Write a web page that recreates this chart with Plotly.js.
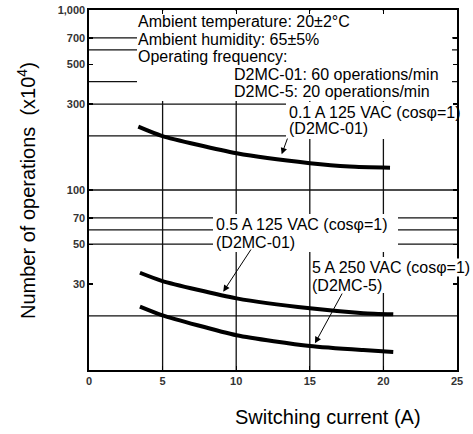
<!DOCTYPE html>
<html>
<head>
<meta charset="utf-8">
<script src="https://cdn.plot.ly/plotly-3.0.1.min.js"></script>
<style>html,body{margin:0;padding:0;background:#fff;}#chart{width:473px;height:434px;}</style>
</head>
<body>
<div id="chart"></div>
<script>
// ---- data ----
const currentA = [3.35, 4.94, 10.03, 15.01, 17.7, 20.45];
const ops_01A_125VAC = [225, 200, 160, 141, 135, 133];
const currentB = [3.46, 4.94, 10.03, 15.01, 18.63, 20.67];
const ops_05A_125VAC = [34.7, 31.3, 25.0, 22.0, 20.7, 20.4];
const ops_5A_250VAC = [22.5, 20.2, 15.6, 13.6, 12.9, 12.6];

const xTickVals = [0, 5, 10, 15, 20, 25];
const yTickVals = [30, 50, 70, 100, 300, 500, 700, 1000];
const yTickText = ['30', '50', '70', '100', '300', '500', '700', '1,000'];
const hGridVals = [700, 600, 400, 300, 200, 100, 70, 60, 50, 20];
const vGridVals = [5, 10, 15, 20];

const noteLines = [
  'Ambient temperature: 20±2°C',
  'Ambient humidity: 65±5%',
  'Operating frequency:',
  'D2MC-01: 60 operations/min',
  'D2MC-5: 20 operations/min'
];
const curveLabels = [
  ['0.1 A 125 VAC (cosφ=1)', '(D2MC-01)'],
  ['0.5 A 125 VAC (cosφ=1)', '(D2MC-01)'],
  ['5 A 250 VAC (cosφ=1)', '(D2MC-5)']
];

// ---- layout helpers (pixel -> paper) ----
const L = 89, T = 10, W = 368, H = 360;
const px = v => (v - L) / W;
const py = v => (T + H - v) / H;
const FONT = '"Liberation Sans", Arial, Helvetica, sans-serif';

const lineStyle = {color: '#000', width: 4, shape: 'spline', smoothing: 0.6};
const traces = [
  {x: currentA, y: ops_01A_125VAC, mode: 'lines', line: lineStyle, hoverinfo: 'skip'},
  {x: currentB, y: ops_05A_125VAC, mode: 'lines', line: lineStyle, hoverinfo: 'skip'},
  {x: currentB, y: ops_5A_250VAC, mode: 'lines', line: lineStyle, hoverinfo: 'skip'}
];

const shapes = [];
hGridVals.forEach(v => shapes.push({type: 'line', layer: 'below', xref: 'paper', yref: 'y', x0: 0, x1: 1, y0: v, y1: v, line: {color: '#111', width: 1.3}}));
vGridVals.forEach(v => shapes.push({type: 'line', layer: 'below', xref: 'x', yref: 'paper', x0: v, x1: v, y0: 0, y1: 1, line: {color: '#111', width: 1.3}}));
// white boxes behind the text blocks
const masks = [[137, 11, 452, 101], [286, 102, 460, 139], [213, 214, 398, 252], [312, 257, 470, 293]];
masks.forEach(m => shapes.push({type: 'rect', layer: 'below', xref: 'paper', yref: 'paper', x0: px(m[0]), x1: px(m[2]), y0: py(m[3]), y1: py(m[1]), fillcolor: '#fff', line: {width: 0}}));

const annotations = [];
const txt = (text, x, y) => annotations.push({text: text, xref: 'paper', yref: 'paper', x: px(x), y: py(y), xanchor: 'left', yanchor: 'middle', showarrow: false, bgcolor: 'rgba(255,255,255,0)', borderpad: 0, font: {family: FONT, size: 16, color: '#000'}});
const noteXY = [[137, 22], [137, 39.5], [137, 57], [233, 74.5], [233, 92]];
noteLines.forEach((t, i) => txt(t, noteXY[i][0], noteXY[i][1]));
const labXY = [[[288, 112], [288, 128.5]], [[215, 224.5], [215, 243]], [[311, 267], [311, 285]]];
curveLabels.forEach((pair, i) => pair.forEach((t, j) => txt(t, labXY[i][j][0], labXY[i][j][1])));
// frame under the 5 A label is hidden by its text
annotations[annotations.length - 2].bgcolor = '#fff';

const arrow = (x, ylog, ax, ay) => annotations.push({text: '', x: x, y: ylog, xref: 'x', yref: 'y', showarrow: true, arrowhead: 2, arrowsize: 1.3, arrowwidth: 1, arrowcolor: '#000', ax: ax, ay: ay, standoff: 0});
arrow(13.09, 2.198, 6.3, -17.3);
arrow(9.12, 1.435, 28.7, -43.7);
arrow(15.35, 1.148, 28, -51.3);

annotations.push({text: 'Number of operations\u00A0\u00A0(x10<sup>4</sup>)', xref: 'paper', yref: 'paper', x: px(26), y: py(191), xanchor: 'center', yanchor: 'middle', textangle: -90, showarrow: false, font: {family: FONT, size: 20, color: '#000'}});
annotations.push({text: 'Switching current (A)', xref: 'paper', yref: 'paper', x: px(328), y: py(417), xanchor: 'center', yanchor: 'middle', showarrow: false, font: {family: FONT, size: 20, color: '#000'}});

const axisCommon = {
  showline: true, linecolor: '#000', linewidth: 1.6, mirror: 'ticks',
  ticks: 'inside', ticklen: 4, tickwidth: 1.3, tickcolor: '#000',
  showgrid: false, zeroline: false,
  tickfont: {family: FONT, size: 11, color: '#333', weight: 'bold'}
};

const layout = {
  width: 473, height: 434,
  margin: {l: L, r: 473 - L - W, t: T, b: 434 - T - H},
  paper_bgcolor: '#fff', plot_bgcolor: '#fff',
  showlegend: false,
  xaxis: Object.assign({}, axisCommon, {range: [0, 25], tickmode: 'array', tickvals: xTickVals, ticktext: xTickVals.map(String)}),
  yaxis: Object.assign({}, axisCommon, {type: 'log', range: [1, 3], tickmode: 'array', tickvals: yTickVals, ticktext: yTickText}),
  shapes: shapes,
  annotations: annotations
};

Plotly.newPlot('chart', traces, layout, {staticPlot: true, displayModeBar: false});
</script>
</body>
</html>
